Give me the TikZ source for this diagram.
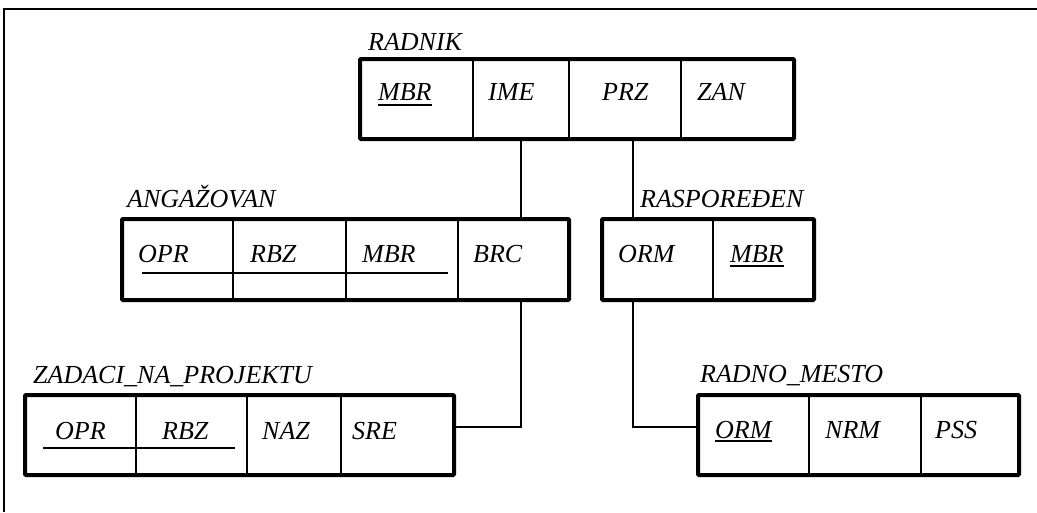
\documentclass[tikz,border=0pt]{standalone}
\usepackage{fontspec}
\setmainfont{Liberation Serif}
\begin{document}
\begin{tikzpicture}[x=1pt,y=-1pt,
  rel/.style={draw, line width=4pt, rounded corners=1pt, inner sep=0pt, anchor=north west},
  fld/.style={anchor=base west, inner sep=0pt, font=\fontsize{26}{28}\selectfont\itshape},
  ttl/.style={fld},
  sep/.style={line width=1.3pt},
  conn/.style={line width=1.3pt},
  key/.style={line width=2pt}]
\useasboundingbox (0,0) rectangle (1037,512);

% outer frame (top and left edges)
\draw[line width=2pt] (4,512) -- (4,9) -- (1037,9);

% ---- RADNIK
\node[rel, minimum width=434pt, minimum height=80pt] (radnik) at (358,57) {};
\foreach \x in {473,569,681} \draw[sep] (\x,0 |- radnik.north) -- (\x,0 |- radnik.south);
\node[ttl] (t-radnik) at (368,50) {RADNIK};
\node[fld] (r-mbr) at (378,100) {MBR};
\node[fld] (r-ime) at (488,100) {IME};
\node[fld] (r-prz) at (602,100) {PRZ};
\node[fld] (r-zan) at (697,100) {ZAN};
\draw[key] ([yshift=-5pt]r-mbr.base west) -- ([yshift=-5pt]r-mbr.base east);

% ---- ANGAŽOVAN
\node[rel, minimum width=447pt, minimum height=81pt] (angaz) at (120,217) {};
\foreach \x in {233,346,458} \draw[sep] (\x,0 |- angaz.north) -- (\x,0 |- angaz.south);
\node[ttl] (t-angaz) at (127,207) {ANGAŽOVAN};
\node[fld] (a-opr) at (138,262) {OPR};
\node[fld] (a-rbz) at (250,262) {RBZ};
\node[fld] (a-mbr) at (362,262) {MBR};
\node[fld] (a-brc) at (473,262) {BRC};
\draw[key] (142,273) -- (448,273);

% ---- RASPOREĐEN
\node[rel, minimum width=212pt, minimum height=81pt] (raspor) at (600,217) {};
\draw[sep] (713,0 |- raspor.north) -- (713,0 |- raspor.south);
\node[ttl] (t-raspor) at (640,207) {RASPOREĐEN};
\node[fld] (p-orm) at (618,262) {ORM};
\node[fld] (p-mbr) at (730,262) {MBR};
\draw[key] ([yshift=-4pt]p-mbr.base west) -- ([yshift=-4pt]p-mbr.base east);

% ---- ZADACI_NA_PROJEKTU
\node[rel, minimum width=429pt, minimum height=80pt] (zadaci) at (23,393) {};
\foreach \x in {136,247,341} \draw[sep] (\x,0 |- zadaci.north) -- (\x,0 |- zadaci.south);
\node[ttl] (t-zadaci) at (33,383) {ZADACI\_NA\_PROJEKTU};
\node[fld] (z-opr) at (55,439) {OPR};
\node[fld] (z-rbz) at (162,439) {RBZ};
\node[fld] (z-naz) at (262,439) {NAZ};
\node[fld] (z-sre) at (352,439) {SRE};
\draw[key] (43,448) -- (235,448);
\draw[key] (136,441) -- (136,458);

% ---- RADNO_MESTO
\node[rel, minimum width=321pt, minimum height=80pt] (mesto) at (696,393) {};
\foreach \x in {809,921} \draw[sep] (\x,0 |- mesto.north) -- (\x,0 |- mesto.south);
\node[ttl] (t-mesto) at (700,382) {RADNO\_MESTO};
\node[fld] (m-orm) at (715,438) {ORM};
\node[fld] (m-nrm) at (825,438) {NRM};
\node[fld] (m-pss) at (935,438) {PSS};
\draw[key] ([yshift=-3pt]m-orm.base west) -- ([yshift=-3pt]m-orm.base east);

% ---- connectors
\coordinate (ka) at (521,427);
\coordinate (kb) at (633,427);
\draw[conn] (radnik.south -| ka) -- (angaz.north -| ka);
\draw[conn] (angaz.south -| ka) -- (ka) -- (zadaci.east |- ka);
\draw[conn] (radnik.south -| kb) -- (raspor.north -| kb);
\draw[conn] (raspor.south -| kb) -- (kb) -- (mesto.west |- kb);
\end{tikzpicture}
\end{document}
